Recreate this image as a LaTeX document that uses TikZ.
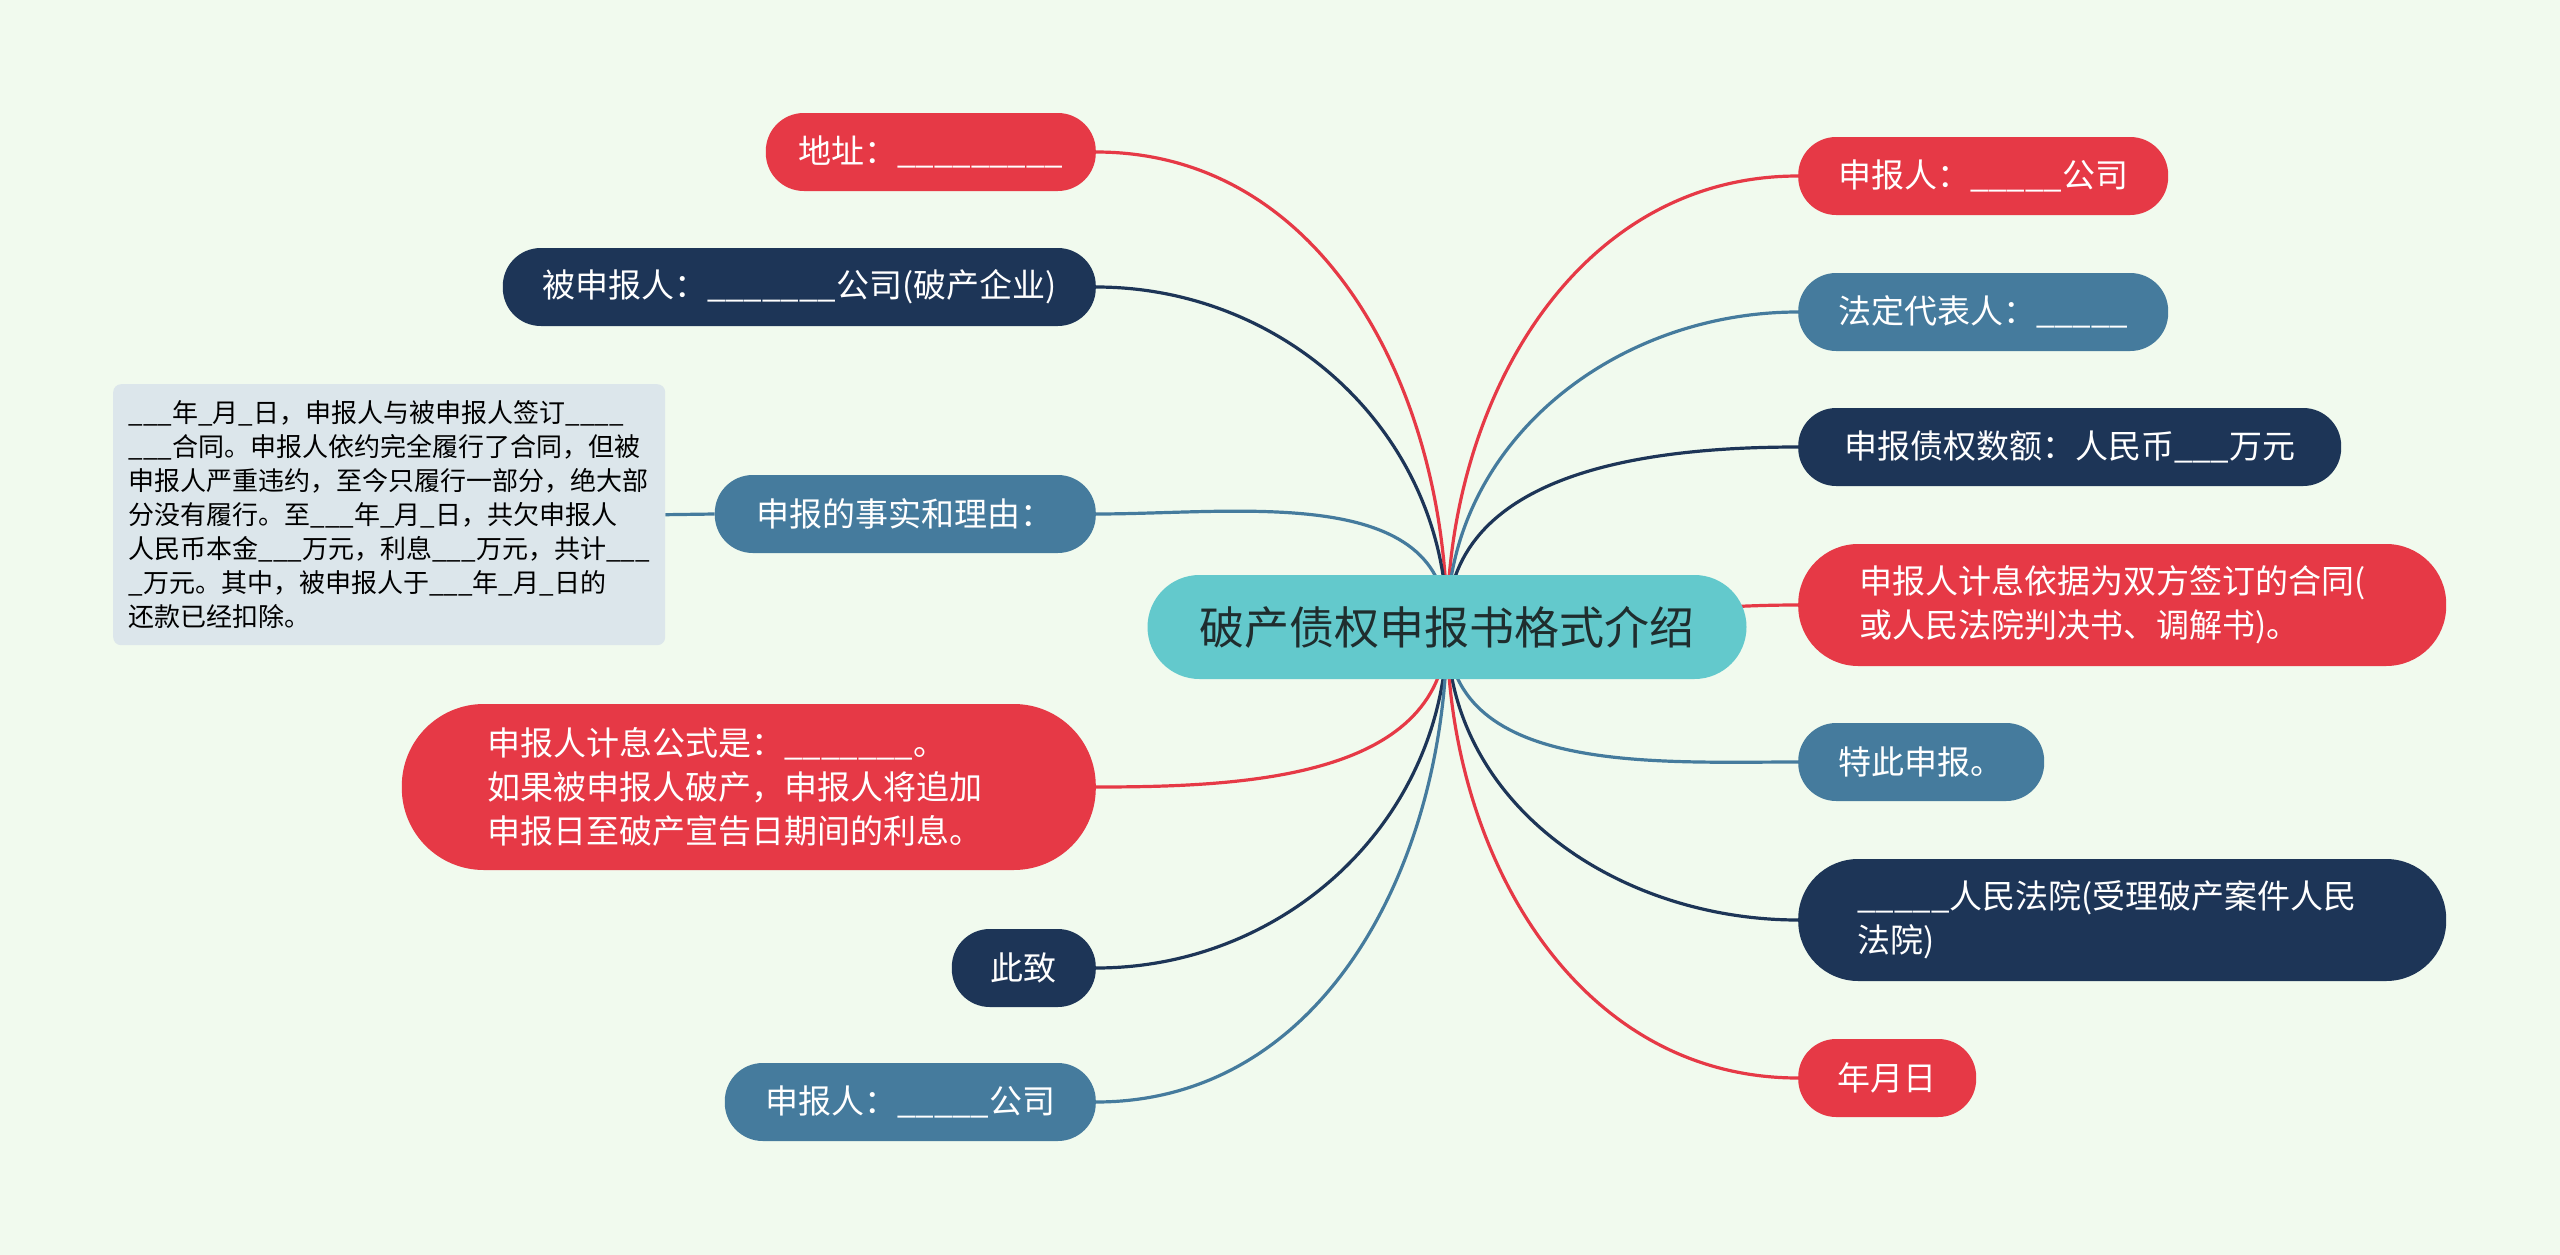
\documentclass[tikz,border=0pt]{standalone}
\usepackage{fontspec}
\setmainfont{Noto Sans CJK SC}
\usepackage{tikz}
\usetikzlibrary{backgrounds}
\definecolor{mmRed}{HTML}{E63946}
\definecolor{mmNavy}{HTML}{1D3557}
\definecolor{mmBlue}{HTML}{457B9D}
\definecolor{mmTeal}{HTML}{63C9CC}
\definecolor{mmPaper}{HTML}{F1FAEE}
\definecolor{mmBox}{HTML}{DCE6EB}
\definecolor{mmInk}{HTML}{1F2D2E}
\newcommand{\blanks}[1]{\foreach \k in {1,...,#1}{\_}}
\tikzset{
  topic/.style={fill=#1, text=white, rounded corners=38pt, minimum height=78pt,
    inner xsep=16pt, inner ysep=0pt, font=\fontsize{33}{44}\selectfont},
  twoline/.style={align=left, minimum height=122pt, rounded corners=60pt},
  link/.style={line width=3.2pt},
}

\begin{document}
\begin{tikzpicture}[x=1pt, y=-1pt]
    % centre
    \node[fill=mmTeal, text=mmInk, rounded corners=52pt, minimum width=599pt,
      minimum height=104pt, font=\fontsize{45}{54}\selectfont] (root) at (1447,627)
      {破产债权申报书格式介绍};
    % left side
    \node[topic=mmRed, anchor=east, minimum width=330pt] (addr) at (1096,152)
      {地址：\blanks{9}};
    \node[topic=mmNavy, anchor=east, minimum width=593pt] (debtor) at (1096,287)
      {被申报人：\blanks{7}公司(破产企业)};
    \node[topic=mmBlue, anchor=east, minimum width=381pt] (facts) at (1096,514)
      {申报的事实和理由：};
    \node[topic=mmRed, twoline, anchor=east, minimum width=694pt, minimum height=166pt,
      rounded corners=82pt] (formula) at (1096,787)
      {申报人计息公式是：\blanks{7}。\hspace*{64pt}\\如果被申报人破产，申报人将追加\\申报日至破产宣告日期间的利息。};
    \node[topic=mmNavy, anchor=east, minimum width=144pt] (regards) at (1096,968) {此致};
    \node[topic=mmBlue, anchor=east, minimum width=371pt] (applL) at (1096,1102)
      {申报人：\blanks{5}公司};
    \node[fill=mmBox, rounded corners=8pt, anchor=north west, align=left,
      minimum width=552pt, minimum height=261pt, inner xsep=12pt,
      font=\fontsize{26}{34}\selectfont] (factbox) at (113,384)
      {\blanks{3}年\_月\_日，申报人与被申报人签订\blanks{4}\\
       \blanks{3}合同。申报人依约完全履行了合同，但被\\
       申报人严重违约，至今只履行一部分，绝大部\\
       分没有履行。至\blanks{3}年\_月\_日，共欠申报人\\
       人民币本金\blanks{3}万元，利息\blanks{3}万元，共计\blanks{3}\\
       \_万元。其中，被申报人于\blanks{3}年\_月\_日的\\
       还款已经扣除。};
    % right side
    \node[topic=mmRed, anchor=west, minimum width=370pt] (applR) at (1798,176)
      {申报人：\blanks{5}公司};
    \node[topic=mmBlue, anchor=west, minimum width=370pt] (legal) at (1798,312)
      {法定代表人：\blanks{5}};
    \node[topic=mmNavy, anchor=west, minimum width=543pt] (amount) at (1798,447)
      {申报债权数额：人民币\blanks{3}万元};
    \node[topic=mmRed, twoline, anchor=west, minimum width=648pt] (basis) at (1798,605)
      {申报人计息依据为双方签订的合同(\hspace*{20pt}\\或人民法院判决书、调解书)。};
    \node[topic=mmBlue, anchor=west, minimum width=246pt] (hereby) at (1798,762)
      {特此申报。};
    \node[topic=mmNavy, twoline, anchor=west, minimum width=648pt] (court) at (1798,920)
      {\blanks{5}人民法院(受理破产案件人民\hspace*{30pt}\\法院)};
    \node[topic=mmRed, anchor=west, minimum width=178pt] (date) at (1798,1078) {年月日};

    \begin{pgfonlayer}{background}
      \fill[mmPaper] (0,0) rectangle (2560,1255);
      \foreach \n/\c/\o in {addr/mmRed/90, debtor/mmNavy/90, facts/mmBlue/90,
                            formula/mmRed/-90, regards/mmNavy/-90, applL/mmBlue/-90}
        \draw[link, \c] (root.center) to[out=\o, in=0] (\n.east);
      \foreach \n/\c/\o in {applR/mmRed/90, legal/mmBlue/90, amount/mmNavy/90,
                            basis/mmRed/0, hereby/mmBlue/-90, court/mmNavy/-90,
                            date/mmRed/-90}
        \draw[link, \c] (root.center) to[out=\o, in=180] (\n.west);
      \draw[link, mmBlue] (facts.west) -- (factbox.east);
    \end{pgfonlayer}
\end{tikzpicture}
\end{document}
